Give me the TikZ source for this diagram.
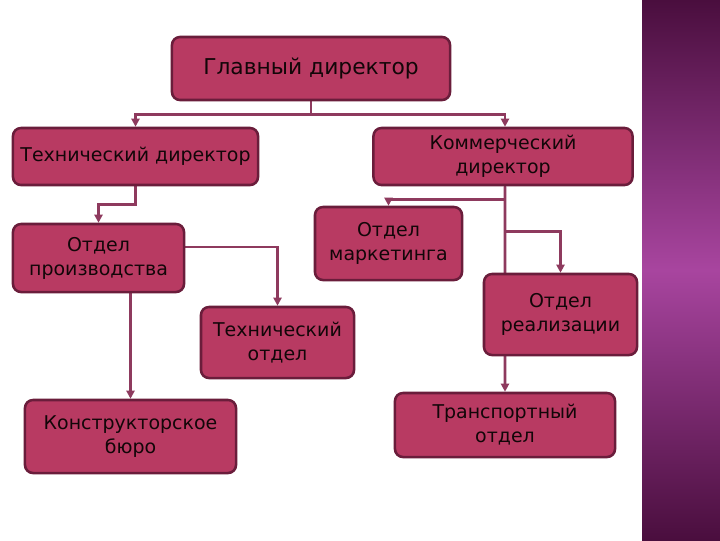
\documentclass[tikz,border=0pt]{standalone}
\usepackage{fontspec}
\setmainfont{DejaVu Sans}
\usetikzlibrary{arrows.meta,backgrounds}
\definecolor{OrgFill}{HTML}{B83A62}
\definecolor{OrgEdge}{HTML}{6A1D3B}
\definecolor{OrgLink}{HTML}{8E3A5E}
\definecolor{OrgText}{HTML}{120608}
\definecolor{OrgStripDark}{HTML}{4A0E3E}
\definecolor{OrgStripMid}{HTML}{A8459F}
\tikzset{
  link/.style={-{Triangle[length=2mm,width=2mm]},OrgLink,line width=1.8pt},
  unit/.style={draw=OrgEdge,line width=1.8pt,fill=OrgFill,rounded corners=2mm,
               text=OrgText,align=center,inner sep=1mm,
               font=\fontsize{13.5}{17}\selectfont},
  unithead/.style={unit,font=\fontsize{15.5}{19}\selectfont},
}
\begin{document}
\begin{tikzpicture}[x=0.025cm,y=-0.025cm]
  \useasboundingbox (0,0) rectangle (720,540);

  \node[unithead,minimum width=6.95cm,minimum height=1.575cm] (chief) at (311,68.5) {Главный директор};
  \node[unit,minimum width=6.125cm,minimum height=1.425cm] (techdir) at (135.5,156.5) {Технический директор};
  \node[unit,minimum width=6.475cm,minimum height=1.425cm] (salesdir) at (503,156.5) {Коммерческий\\директор};
  \node[unit,minimum width=4.275cm,minimum height=1.7cm] (prod) at (98.5,258) {Отдел\\производства};
  \node[unit,minimum width=3.675cm,minimum height=1.825cm] (market) at (388.5,243.5) {Отдел\\маркетинга};
  \node[unit,minimum width=3.825cm,minimum height=1.775cm] (techdep) at (277.5,342.5) {Технический\\отдел};
  \node[unit,minimum width=3.825cm,minimum height=2.025cm] (sales) at (560.5,314.5) {Отдел\\реализации};
  \node[unit,minimum width=5.275cm,minimum height=1.825cm] (design) at (130.5,436.5) {Конструкторское\\бюро};
  \node[unit,minimum width=5.5cm,minimum height=1.6cm] (transport) at (505,425) {Транспортный\\отдел};

  \begin{pgfonlayer}{background}
    \fill[white] (0,0) rectangle (720,540);
    \shade[top color=OrgStripDark,bottom color=OrgStripDark,middle color=OrgStripMid]
      (642,0) rectangle (720,540);
    \draw[link] (chief.south) -- ++(0,13) -| (techdir.north);
    \draw[link] (chief.south) -- ++(0,13) -| ([xshift=0.05cm]salesdir.north);
    \draw[link] (techdir.south) -- ++(0,18) -| (prod.north);
    \draw[link] ([xshift=0.05cm]salesdir.south) -- ++(0,13) -| (market.north);
    \draw[link] ([xshift=0.05cm]salesdir.south) -- (transport.north);
    \draw[link] ([xshift=0.05cm]salesdir.south) ++(0,45) -| (sales.north);
    \draw[link] ([yshift=0.275cm]prod.east) -| (techdep.north);
    \draw[link] (prod.south -| design.north) -- (design.north);
  \end{pgfonlayer}
\end{tikzpicture}
\end{document}
